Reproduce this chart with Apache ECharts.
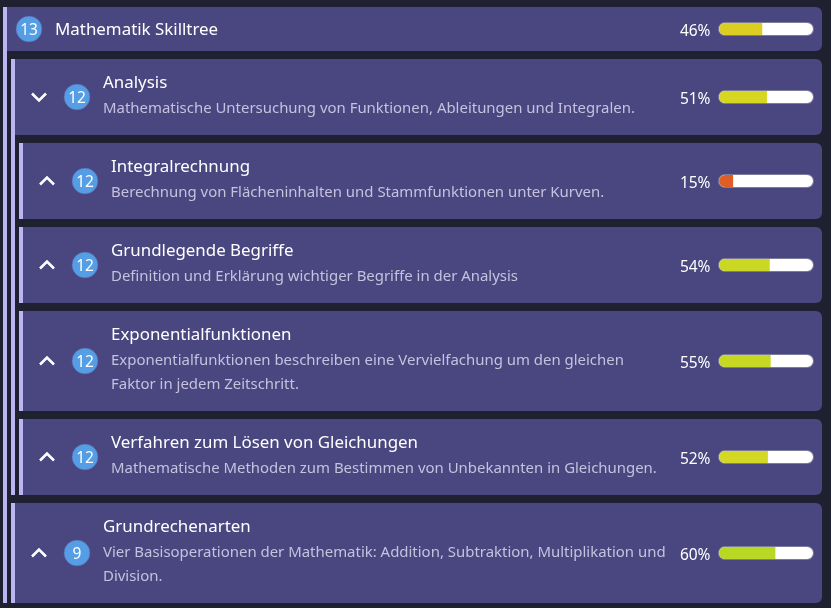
<!DOCTYPE html>
<html><head><meta charset="utf-8">
<style>html,body{margin:0;padding:0;background:#1f2130}#c{width:831px;height:608px}</style>
<script src="https://cdn.jsdelivr.net/npm/echarts@6/dist/echarts.min.js"></script></head>
<body><div id="c"></div>
<script>
const skillNames = ['Mathematik Skilltree','Analysis','Integralrechnung','Grundlegende Begriffe','Exponentialfunktionen','Verfahren zum Lösen von Gleichungen','Grundrechenarten'];
const skillDescriptions = ['',
 'Mathematische Untersuchung von Funktionen, Ableitungen und Integralen.',
 'Berechnung von Flächeninhalten und Stammfunktionen unter Kurven.',
 'Definition und Erklärung wichtiger Begriffe in der Analysis',
 'Exponentialfunktionen beschreiben eine Vervielfachung um den gleichen\nFaktor in jedem Zeitschritt.',
 'Mathematische Methoden zum Bestimmen von Unbekannten in Gleichungen.',
 'Vier Basisoperationen der Mathematik: Addition, Subtraktion, Multiplikation und\nDivision.'];
const skillCounts = [13,12,12,12,12,12,9];
const skillPercents = [46,51,15,54,55,52,60];
const barColors = ['#dccd22','#d7d722','#de5e26','#cbd823','#c6d824','#d2d823','#b8d824'];
const chevrons = [null,'down','up','up','up','up','up'];

// layout of the cards (not data)
const cardTop = [7,59,143,227,311,419,503];
const cardBottom = [51,135,219,303,411,495,603];
const cardLeft = [7,15,23,23,23,23,15];
const cardRight = 822;
const FONT = '"Noto Sans"';

const g = [];
// vertical guide rails
[[3,7,603],[11,59,495],[19,143,219],[19,227,303],[19,311,411],[19,419,495],[11,503,603]].forEach(r=>{
  g.push({type:'rect',shape:{x:r[0],y:r[1],width:4,height:r[2]-r[1]},style:{fill:'#bdb4f2'},silent:true});
});
const grids=[],xAxes=[],yAxes=[],series=[];
skillNames.forEach((name,i)=>{
  const top=cardTop[i],bot=cardBottom[i],cy=(top+bot)/2,left=cardLeft[i];
  g.push({type:'rect',shape:{x:left,y:top,width:cardRight-left,height:bot-top,r:[0,6,6,0]},style:{fill:'#4a4680'},silent:true});
  const badgeX = i===0?29:left+62;
  g.push({type:'circle',shape:{cx:badgeX,cy:cy,r:13},style:{fill:'#559ee6',stroke:'#5a5a9a',lineWidth:0.6},silent:true});
  g.push({type:'text',x:badgeX,y:cy+1.5,style:{text:String(skillCounts[i]),fill:'#fff',font:'15.5px '+FONT,textAlign:'center',textVerticalAlign:'middle'},silent:true});
  if(chevrons[i]){
    const cx=left+24, d=chevrons[i]==='down'?1:-1;
    g.push({type:'polyline',shape:{points:[[cx-7,cy-3.5*d],[cx,cy+3.5*d],[cx+7,cy-3.5*d]]},style:{stroke:'#fff',lineWidth:2.6,fill:null},silent:true});
  }
  const tx = i===0?55:left+88;
  const titleY = i===0?cy+1:top+24;
  g.push({type:'text',x:tx,y:titleY,style:{text:name,fill:'#fff',font:'16.9px '+FONT,textAlign:'left',textVerticalAlign:'middle'},silent:true});
  if(skillDescriptions[i]){
    g.push({type:'text',x:tx,y:top+38,style:{text:skillDescriptions[i],fill:'#c5c2de',font:'14.95px '+FONT,lineHeight:24,textAlign:'left',textVerticalAlign:'top'},silent:true});
  }
  // bar track outline
  g.push({type:'rect',shape:{x:718,y:cy-7,width:96,height:14,r:7},style:{fill:'#7d7b9c'},silent:true});
  grids.push({left:719,width:94,top:cy-6,height:12,containLabel:false});
  xAxes.push({type:'value',gridIndex:i,min:0,max:100,show:false});
  yAxes.push({type:'category',gridIndex:i,data:[name],show:false});
  series.push({type:'bar',xAxisIndex:i,yAxisIndex:i,barWidth:'100%',animation:false,silent:true,
    data:[skillPercents[i]],itemStyle:{color:barColors[i],borderRadius:[6,0,0,6]},
    label:{show:true,position:'insideLeft',distance:0,offset:[-8.5,3],align:'right',formatter:'{c}%',color:'#fff',fontSize:15.5,fontFamily:FONT},
    showBackground:true,backgroundStyle:{color:'#fff',borderRadius:6}});
});
const chart=echarts.init(document.getElementById('c'),null,{renderer:'canvas'});
chart.setOption({backgroundColor:'#1f2130',animation:false,tooltip:{show:false},graphic:{elements:g},grid:grids,xAxis:xAxes,yAxis:yAxes,series:series});
</script></body></html>
